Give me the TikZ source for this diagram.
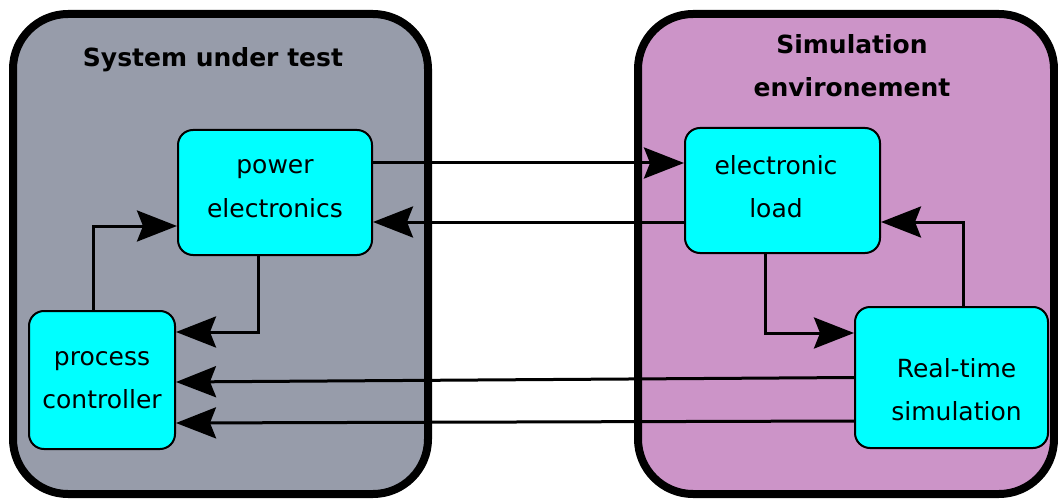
\documentclass[tikz,border=0pt]{standalone}
\usepackage{fontspec}
\setmainfont{DejaVu Sans}
\usetikzlibrary{arrows.meta}
\definecolor{sutgray}{HTML}{979CAA}
\definecolor{simpurple}{HTML}{CC94C8}
\definecolor{blockcyan}{HTML}{00FFFF}
\tikzset{
  frame/.style={line width=4pt, rounded corners=27.5pt},
  title/.style={font=\fontsize{12.5}{21.5}\selectfont\bfseries, align=center},
  block/.style={draw, line width=1pt, fill=blockcyan, rounded corners=7.5pt, align=center, font=\fontsize{12.5}{21.5}\selectfont},
  link/.style={line width=1.5pt, -{Stealth[length=20pt,width=15.5pt,inset=3pt]}}
}

\begin{document}
\begin{tikzpicture}[x=0.5pt, y=-0.5pt]
\useasboundingbox (0,0) rectangle (1058,502);
\draw[frame, fill=sutgray] (13,14) rectangle (428,494);
\draw[frame, fill=simpurple] (638,14) rectangle (1054,494);
\node[title, anchor=base] (sut) at (213,67) {System under test};
\node[title] (simenv) at (852,66) {Simulation\\environement};

\node[block, minimum width=97pt, minimum height=62.5pt] (pe) at (275,192.5) {power\\electronics\rule[-4pt]{0pt}{0pt}};
\node[block, minimum width=97.5pt, minimum height=62.5pt] (el) at (782.5,190.5) {electronic\hspace*{6.5pt}\\load\hspace*{6.5pt}\rule[-4pt]{0pt}{0pt}};
\node[block, minimum width=73pt, minimum height=69pt] (pc) at (102,380) {process\\controller};
\node[block, minimum width=96.5pt, minimum height=70.5pt] (rt) at (951.5,377.5) {\rule{0pt}{22pt}\hspace*{5pt}Real-time\\\hspace*{5pt}simulation};

\draw[link] ([yshift=14.75pt]pe.east) -- ([yshift=14.75pt]pe.east -| el.west);
\draw[link] ([yshift=-15.75pt]el.west) -- ([yshift=-15.75pt]el.west -| pe.east);
\draw[link] ([xshift=-8.5pt]pe.south) |- ([yshift=24pt]pc.east);
\draw[link] ([xshift=-4.5pt]pc.north) |- ([yshift=-16.75pt]pe.west);
\draw[link] ([xshift=-8.75pt]el.south) |- ([yshift=22.25pt]rt.west);
\draw[link] ([xshift=5.75pt]rt.north) |- ([yshift=-15.75pt]el.east);
\draw[link] (rt.west) -- ([yshift=-1pt]pc.east);
\draw[link] ([yshift=-21.75pt]rt.west) -- ([yshift=-21.5pt]pc.east);
\end{tikzpicture}
\end{document}
